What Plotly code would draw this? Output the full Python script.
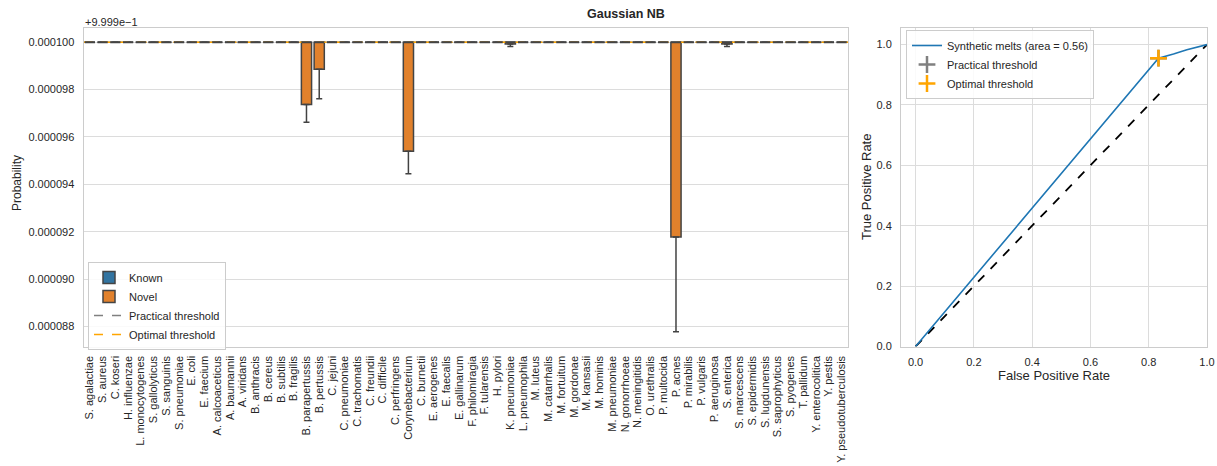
import plotly.graph_objects as go

W, H = 1217, 466

# ---------------- data ----------------
categories = [
    "S. agalactiae", "S. aureus", "C. koseri", "H. influenzae", "L. monocytogenes",
    "S. gallolyticus", "S. sanguinis", "S. pneumoniae", "E. coli", "E. faecium",
    "A. calcoaceticus", "A. baumannii", "A. viridans", "B. anthracis", "B. cereus",
    "B. subtilis", "B. fragilis", "B. parapertussis", "B. pertussis", "C. jejuni",
    "C. pneumoniae", "C. trachomatis", "C. freundii", "C. difficile", "C. perfringens",
    "Corynebacterium", "C. burnetii", "E. aerogenes", "E. faecalis", "E. gallinarum",
    "F. philomiragia", "F. tularensis", "H. pylori", "K. pneumoniae", "L. pneumophila",
    "M. luteus", "M. catarrhalis", "M. fortuitum", "M. gordonae", "M. kansasii",
    "M. hominis", "M. pneumoniae", "N. gonorrhoeae", "N. meningitidis", "O. urethralis",
    "P. multocida", "P. acnes", "P. mirabilis", "P. vulgaris", "P. aeruginosa",
    "S. enterica", "S. marcescens", "S. epidermidis", "S. lugdunensis", "S. saprophyticus",
    "S. pyogenes", "T. pallidum", "Y. enterocolitica", "Y. pestis", "Y. pseudotuberculosis",
]
groups = ["Known"] * 10 + ["Novel"] * 50

# mean probability and lower CI bound (values that are not listed are 1.0)
mean_prob = {
    "B. parapertussis": 0.99999737,
    "B. pertussis": 0.99999886,
    "Corynebacterium": 0.99999539,
    "K. pneumoniae": 0.99999992,
    "P. acnes": 0.99999177,
    "S. enterica": 0.99999992,
}
ci_low = {
    "B. parapertussis": 0.99999662,
    "B. pertussis": 0.99999761,
    "Corynebacterium": 0.99999445,
    "K. pneumoniae": 0.99999982,
    "P. acnes": 0.99998777,
    "S. enterica": 0.99999982,
}
practical_threshold = 1.0
optimal_threshold = 1.0
offset = 0.9999

# ROC
roc_fpr = [0.0, 0.8335, 0.885, 0.931, 1.0]
roc_tpr = [0.0, 0.955, 0.969, 0.983, 1.0]
roc_auc = 0.56
practical_pt = (0.8335, 0.955)
optimal_pt = (0.8335, 0.955)

# ---------------- figure ----------------
TXT = "#262626"
FONT = "Liberation Sans, Arial, sans-serif"
GRID = "#dcdcdc"
SPINE = "#cccccc"

fig = go.Figure()

xs = list(range(len(categories)))
colors = {"Known": "#3274a1", "Novel": "#e1812c"}
for g in ["Known", "Novel"]:
    idx = [i for i in xs if groups[i] == g]
    means = [mean_prob.get(categories[i], 1.0) for i in idx]
    lows = [ci_low.get(categories[i], mean_prob.get(categories[i], 1.0)) for i in idx]
    top = practical_threshold - offset
    fig.add_trace(go.Bar(
        x=idx,
        y=[(m - offset) - top for m in means],
        base=[top] * len(idx),
        width=0.8,
        name=g,
        marker=dict(color=colors[g], line=dict(color="#444444", width=1.5)),
        error_y=dict(type="data", symmetric=False,
                     array=[0] * len(idx),
                     arrayminus=[m - l for m, l in zip(means, lows)],
                     color="#424242", thickness=1.5, width=3),
        legend="legend", xaxis="x", yaxis="y",
    ))

fig.add_trace(go.Scatter(
    x=[-0.5, len(categories) - 0.5], y=[practical_threshold - offset] * 2,
    mode="lines", line=dict(color="grey", dash="dash", width=1.5),
    name="Practical threshold", legend="legend", xaxis="x", yaxis="y"))
fig.add_trace(go.Scatter(
    x=[-0.5, len(categories) - 0.5], y=[optimal_threshold - offset] * 2,
    mode="lines", line=dict(color="orange", dash="dash", width=1.5),
    name="Optimal threshold", legend="legend", xaxis="x", yaxis="y"))

# top edges of the bars (all bars end at 1.0)
seg_x, seg_y = [], []
for i in xs:
    seg_x += [i - 0.4, i + 0.4, None]
    seg_y += [1.0 - offset, 1.0 - offset, None]
fig.add_trace(go.Scatter(x=seg_x, y=seg_y, mode="lines",
                         line=dict(color="#444444", width=2),
                         showlegend=False, hoverinfo="skip",
                         xaxis="x", yaxis="y"))

# ROC panel
fig.add_trace(go.Scatter(x=[0, 1], y=[0, 1], mode="lines",
                         line=dict(color="black", dash="dash", width=1.8),
                         showlegend=False, xaxis="x2", yaxis="y2"))
fig.add_trace(go.Scatter(x=roc_fpr, y=roc_tpr, mode="lines",
                         line=dict(color="#1f77b4", width=1.6),
                         name=f"Synthetic melts (area = {roc_auc:.2f})",
                         legend="legend2", xaxis="x2", yaxis="y2"))
fig.add_trace(go.Scatter(x=[practical_pt[0]], y=[practical_pt[1]], mode="markers",
                         marker=dict(symbol="cross-thin", size=12, color="grey",
                                     line=dict(color="grey", width=2.5)),
                         name="Practical threshold", legend="legend2",
                         xaxis="x2", yaxis="y2"))
fig.add_trace(go.Scatter(x=[optimal_pt[0]], y=[optimal_pt[1]], mode="markers",
                         marker=dict(symbol="cross-thin", size=12, color="orange",
                                     line=dict(color="orange", width=2.5)),
                         name="Optimal threshold", legend="legend2",
                         xaxis="x2", yaxis="y2"))

def px(x):
    return x / W

def py(y):
    return 1 - y / H

ydom = [py(346.5), py(28)]
tick_font = dict(family=FONT, size=11, color=TXT)

ytick_vals = [0.000088, 0.000090, 0.000092, 0.000094, 0.000096, 0.000098, 0.000100]

fig.update_layout(
    width=W, height=H,
    margin=dict(l=0, r=0, t=0, b=0),
    plot_bgcolor="white", paper_bgcolor="white",
    font=dict(family=FONT, size=11, color=TXT),
    barmode="overlay",
    showlegend=True,
    xaxis=dict(domain=[px(83.5), px(848)], range=[-0.5, len(categories) - 0.5],
               tickmode="array", tickvals=xs, ticktext=categories, tickangle=-90,
               tickfont=tick_font, showgrid=False, zeroline=False,
               showline=True, linecolor=SPINE, linewidth=1, mirror=True,
               ticks="", ticklabelstandoff=4, automargin=False, anchor="y"),
    yaxis=dict(domain=ydom, range=[0.00008715, 0.0001006],
               tickmode="array", tickvals=ytick_vals, tickformat=".6f",
               tickfont=tick_font, showgrid=True, gridcolor=GRID, gridwidth=1,
               zeroline=False, showline=True, linecolor=SPINE, linewidth=1,
               mirror=True, ticks="", ticklabelstandoff=6, automargin=False,
               anchor="x"),
    xaxis2=dict(domain=[px(901), px(1207)], range=[-0.05, 1.0],
                tickmode="array", tickvals=[0, 0.2, 0.4, 0.6, 0.8, 1.0],
                tickformat=".1f", tickfont=tick_font, showgrid=True,
                gridcolor=GRID, zeroline=False, showline=True, linecolor=SPINE,
                mirror=True, ticks="", ticklabelstandoff=5, automargin=False,
                anchor="y2"),
    yaxis2=dict(domain=ydom, range=[0.0, 1.055],
                tickmode="array", tickvals=[0, 0.2, 0.4, 0.6, 0.8, 1.0],
                tickformat=".1f", tickfont=tick_font, showgrid=True,
                gridcolor=GRID, zeroline=False, showline=True, linecolor=SPINE,
                mirror=True, ticks="", ticklabelstandoff=6, automargin=False,
                anchor="x2"),
    legend=dict(x=px(88), y=py(262), xanchor="left", yanchor="top",
                bgcolor="rgba(255,255,255,0.85)", bordercolor=SPINE, borderwidth=1,
                font=dict(family=FONT, size=11, color=TXT),
                itemwidth=30, tracegroupgap=0),
    legend2=dict(x=px(906), y=py(30), xanchor="left", yanchor="top",
                 bgcolor="rgba(255,255,255,0.85)", bordercolor=SPINE, borderwidth=1,
                 font=dict(family=FONT, size=11, color=TXT),
                 itemwidth=30, tracegroupgap=0),
    annotations=[
        dict(text="<b>Gaussian NB</b>", x=px(626), y=py(14), xref="paper", yref="paper",
             showarrow=False, font=dict(family=FONT, size=12.5, color=TXT),
             xanchor="center", yanchor="middle"),
        dict(text="+9.999e\u22121", x=px(83), y=py(21.7), xref="paper", yref="paper",
             showarrow=False, font=dict(family=FONT, size=11, color=TXT),
             xanchor="left", yanchor="middle"),
        dict(text="Probability", x=px(17), y=py(183), xref="paper", yref="paper",
             showarrow=False, textangle=-90, font=dict(family=FONT, size=12, color=TXT),
             xanchor="center", yanchor="middle"),
        dict(text="True Positive Rate", x=px(866), y=py(187), xref="paper", yref="paper",
             showarrow=False, textangle=-90, font=dict(family=FONT, size=13, color=TXT),
             xanchor="center", yanchor="middle"),
        dict(text="False Positive Rate", x=px(1054), y=py(375), xref="paper", yref="paper",
             showarrow=False, font=dict(family=FONT, size=13, color=TXT),
             xanchor="center", yanchor="middle"),
    ],
)

fig.write_html("out.html")
